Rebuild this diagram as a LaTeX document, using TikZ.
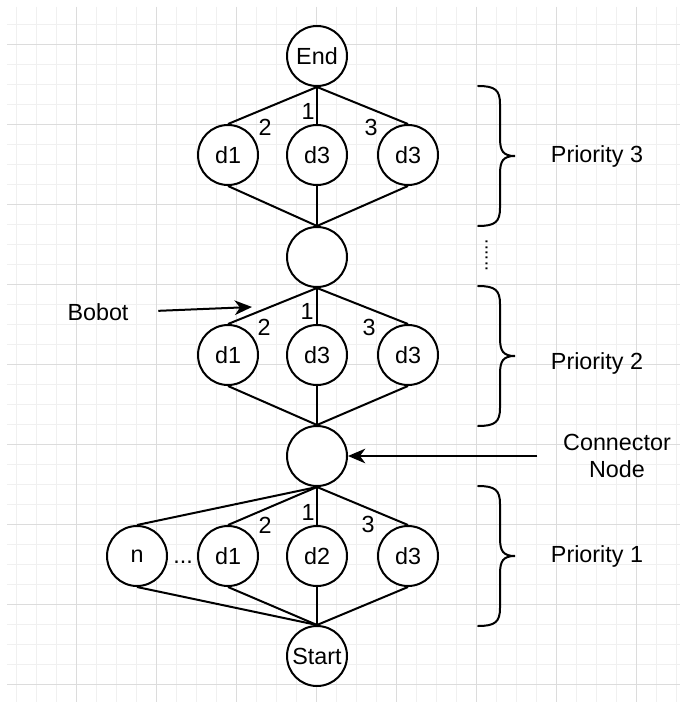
\documentclass[tikz,border=0pt]{standalone}
\usepackage{fontspec}
\setmainfont{Liberation Sans}
\usetikzlibrary{arrows.meta}

\tikzset{
  state/.style={draw, circle, line width=1.5pt, minimum size=45pt, inner sep=0pt, fill=white},
  link/.style={line width=1.5pt},
  txt/.style={inner sep=0.75pt},
  pointer/.style={line width=1.5pt, -{Stealth[length=13pt,width=11pt,inset=4pt]}},
  curly/.style={line width=1.5pt, line cap=round},
  gridminor/.style={draw={rgb, 255:red, 240; green, 240; blue, 240}, line width=0.75pt},
  gridmajor/.style={draw={rgb, 255:red, 220; green, 220; blue, 220}, line width=0.75pt}
}

\begin{document}
\begin{tikzpicture}[x=0.75pt,y=0.75pt,yscale=-1,xscale=1, font=\fontsize{17.5}{20.25}\selectfont]
\useasboundingbox (0,0) rectangle (680,702);
\fill[white] (0,0) rectangle (680,702);

% background grid
\begin{scope}
  \clip (7,7) rectangle (680,702);
  \foreach \gx in {16.5,36.5,...,676.5} \draw[gridminor] (\gx,7) -- (\gx,702);
  \foreach \gy in {24.5,44.5,...,700} \draw[gridminor] (7,\gy) -- (680,\gy);
  \foreach \gx in {76.5,156.5,...,676.5} \draw[gridmajor] (\gx,7) -- (\gx,702);
  \foreach \gy in {44.5,124.5,...,700} \draw[gridmajor] (7,\gy) -- (680,\gy);
\end{scope}

% priority 3
\node[state] (end) at (317,56) {End};
\node[state] (tl) at (228,155) {d1};
\node[state] (tm) at (317,155) {d3};
\node[state] (tr) at (408,155) {d3};
\node[state] (hub2) at (317,257) {};

% priority 2
\node[state] (ml) at (228,355) {d1};
\node[state] (mm) at (317,355) {d3};
\node[state] (mr) at (408,355) {d3};
\node[state] (hub1) at (317,456) {};

% priority 1
\node[state] (bn) at (137,556) {n};
\node[state] (bl) at (228,556) {d1};
\node[state] (bm) at (317,556) {d2};
\node[state] (br) at (408,556) {d3};
\node[state] (start) at (317,656) {Start};

% edges
\foreach \a/\b in {end/tl, end/tm, end/tr, tl/hub2, tm/hub2, tr/hub2,
                   hub2/ml, hub2/mm, hub2/mr, ml/hub1, mm/hub1, mr/hub1,
                   hub1/bn, hub1/bl, hub1/bm, hub1/br,
                   bn/start, bl/start, bm/start, br/start}
  \draw[link] (\a.south) -- (\b.north);

% weights
\node[txt] (w2t) at (265,127) {2};
\node[txt] (w1t) at (308,111) {1};
\node[txt] (w3t) at (371,127) {3};
\node[txt] (w2m) at (264,327) {2};
\node[txt] (w1m) at (307,311) {1};
\node[txt] (w3m) at (369,327) {3};
\node[txt] (w2b) at (265,525) {2};
\node[txt] (w1b) at (308,512) {1};
\node[txt] (w3b) at (368,524) {3};
\node[txt, anchor=base] (dotsb) at (183,563) {...};

% braces
\foreach \my in {156,356,556}
  \draw[curly] (478,\my-70) .. controls (495,\my-70) and (500,\my-66) .. (500,\my-52)
    -- (500,\my-18) .. controls (500,\my-5) and (503,\my) .. (515,\my)
    .. controls (503,\my) and (500,\my+5) .. (500,\my+18)
    -- (500,\my+52) .. controls (500,\my+66) and (495,\my+70) .. (478,\my+70);
\node[txt, anchor=base, rotate=90, font=\fontsize{14.5}{16}\selectfont] (dotsv) at (487.5,255.5) {......};

\node[txt] (prio3) at (597,156) {Priority 3};
\node[txt] (prio2) at (597,363) {Priority 2};
\node[txt] (prio1) at (597,556) {Priority 1};

% annotations
\node[txt] (bobot) at (98,312) {Bobot};
\coordinate (bobottip) at (252,307);
\draw[pointer, shorten <=21.4pt] (bobot.east) -- (bobottip);

\node[txt, align=center] (connlbl) at (617,456) {Connector\\Node};
\draw[pointer, shorten <=18.4pt] (connlbl.west) -- (hub1.east);

\end{tikzpicture}
\end{document}
